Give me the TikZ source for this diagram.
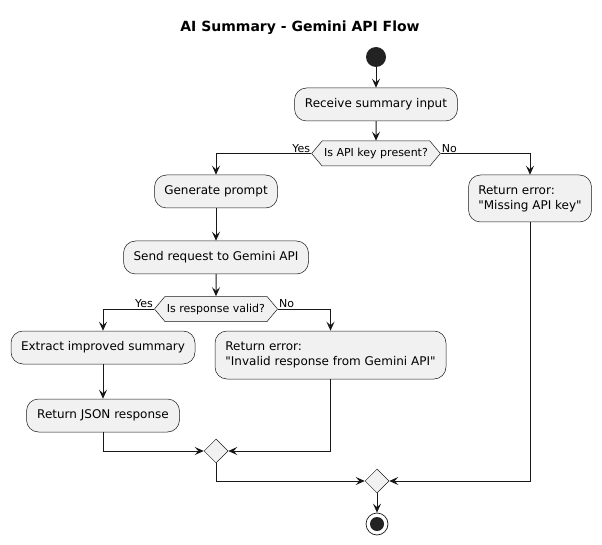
\documentclass[tikz,border=0pt]{standalone}
\usepackage{fontspec}
\setmainfont{DejaVu Sans}[Ligatures=TeXOff]
\usetikzlibrary{shapes.symbols,shapes.geometric,arrows.meta}
\definecolor{actfill}{HTML}{F1F1F1}
\definecolor{linec}{HTML}{181818}
\definecolor{dotc}{HTML}{222222}
\begin{document}
\begin{tikzpicture}[x=1pt,y=-1pt,
  actbox/.style={draw=linec,fill=actfill,line width=0.5pt,rounded corners=12pt,
    font=\fontsize{12}{15}\selectfont,align=left,minimum height=33pt,inner sep=0pt},
  dec/.style={shape=signal,signal to=east and west,signal pointer angle=100,
    draw=linec,fill=actfill,line width=0.5pt,font=\fontsize{11}{13}\selectfont,
    minimum height=25pt,inner xsep=2pt,inner ysep=0pt},
  merge/.style={shape=diamond,draw=linec,fill=actfill,line width=0.5pt,
    minimum width=24pt,minimum height=24pt,inner sep=0pt},
  lbl/.style={font=\fontsize{11}{13}\selectfont,inner sep=1pt},
  flow/.style={draw=linec,line width=1pt,-{Stealth[length=9pt,width=8pt,inset=3.5pt]}},
  startc/.style={circle,fill=dotc,minimum size=20pt,inner sep=0pt},
  endc/.style={circle,draw=linec,fill=white,line width=0.7pt,minimum size=22pt,inner sep=0pt}
]
\useasboundingbox (0,0) rectangle (602,545);
\node[font=\bfseries\fontsize{14}{17}\selectfont] (title) at (300,28) {AI Summary - Gemini API Flow};
\node[startc] (start) at (376,57) {};
\node[actbox,minimum width=163pt] (recv) at (376,104.5) {Receive summary input};
\node[dec,minimum width=122pt] (d1) at (376,153.5) {Is API key present?};
\node[actbox,minimum width=123pt] (gen) at (216,191.5) {Generate prompt};
\node[actbox,minimum width=123pt,minimum height=47pt] (miss) at (530,198.5) {Return error:\\"Missing API key"};
\node[actbox,minimum width=185pt] (send) at (216,257.5) {Send request to Gemini API};
\node[dec,minimum width=121pt] (d2) at (216,309) {Is response valid?};
\node[actbox,minimum width=184pt] (extract) at (103,347.5) {Extract improved summary};
\node[actbox,minimum width=231pt,minimum height=48pt] (inval) at (330.5,355) {Return error:\\"Invalid response from Gemini API"};
\node[actbox,minimum width=153pt] (json) at (103,415.5) {Return JSON response};
\node[merge] (m1) at (216,451) {};
\node[merge] (m2) at (377,481) {};
\node[endc] (end) at (377,524) {};
\fill[dotc] (end.center) circle (7pt);
\node[lbl,anchor=south east] (y1) at (d1.west) {Yes};
\node[lbl,anchor=south west] (n1) at (d1.east) {No};
\node[lbl,anchor=south east] (y2) at (d2.west) {Yes};
\node[lbl,anchor=south west] (n2) at (d2.east) {No};
\draw[flow] (start) -- (recv);
\draw[flow] (recv) -- (d1);
\draw[flow] (d1.west) -| (gen.north);
\draw[flow] (d1.east) -| (miss.north);
\draw[flow] (gen) -- (send);
\draw[flow] (send) -- (d2);
\draw[flow] (d2.west) -| (extract.north);
\draw[flow] (d2.east) -| (inval.north);
\draw[flow] (extract) -- (json);
\draw[flow] (json.south) |- (m1.west);
\draw[flow] (inval.south) |- (m1.east);
\draw[flow] (m1.south) |- (m2.west);
\draw[flow] (miss.south) |- (m2.east);
\draw[flow] (m2) -- (end);
\end{tikzpicture}
\end{document}
